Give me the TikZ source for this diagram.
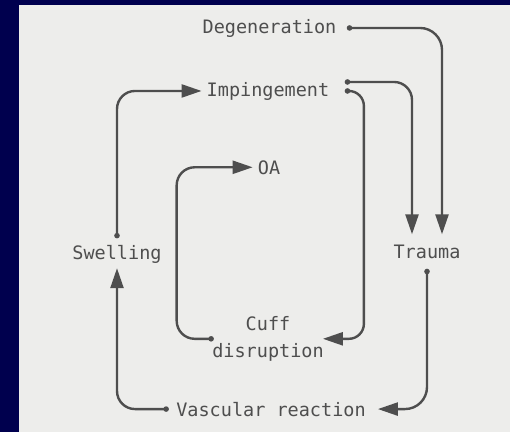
\documentclass[tikz,border=0pt]{standalone}
\usepackage{fontspec}
\setmonofont{DejaVu Sans Mono}
\usetikzlibrary{arrows.meta}
\definecolor{deepNavy}{RGB}{0,0,78}
\definecolor{panelGray}{RGB}{237,237,235}
\definecolor{inkGray}{RGB}{78,78,78}
\tikzset{
  term/.style={font=\ttfamily\fontsize{18.5}{27}\selectfont, text=inkGray, inner sep=0pt, anchor=base},
  link/.style={draw=inkGray, line width=2.4pt, rounded corners=18pt, -{Triangle[length=20pt,width=13pt]}},
}

\begin{document}
\begin{tikzpicture}[x=1pt, y=-1pt]
    \useasboundingbox (0,0) rectangle (510,432);
    \fill[deepNavy] (0,0) rectangle (510,432);
    \fill[panelGray] (19,5) rectangle (510,432);

    \node[term] (deg) at (269.5,33) {Degeneration};
    \node[term] (imp) at (268,96) {Impingement};
    \node[term] (oa) at (269,174) {OA};
    \node[term] (swell) at (117,259) {Swelling};
    \node[term] (trauma) at (427,258) {Trauma};
    \node[term, anchor=center, align=center] (cuff) at (268,338.8) {Cuff\\disruption};
    \node[term] (vasc) at (271,416) {Vascular reaction};

    \coordinate (degdot) at ([xshift=13pt]deg.east);
    \coordinate (impdotA) at ([xshift=18pt,yshift=9pt]imp.east);
    \coordinate (impdotB) at ([xshift=18pt]imp.east);
    \coordinate (swelldot) at ([yshift=9pt]swell.north);
    \coordinate (traumadot) at ([yshift=-13pt]trauma.south);
    \coordinate (cuffdot) at ([xshift=-1pt]cuff.west);
    \coordinate (vascdot) at ([xshift=-10pt]vasc.west);

    \draw[link, rounded corners=22pt] (degdot) -| ([xshift=15pt,yshift=10pt]trauma.north);
    \draw[link] (impdotA) -| ([xshift=-15pt,yshift=10pt]trauma.north);
    \draw[link, rounded corners=15pt] (impdotB) -| ([xshift=40pt,yshift=40pt]cuff.east) |- ([xshift=-1pt]cuff.east);
    \draw[link] (cuffdot) -| ([xshift=-81pt,yshift=-40pt]oa.west) |- ([xshift=-5pt]oa.west);
    \draw[link] (swelldot) |- ([xshift=-5pt]imp.west);
    \draw[link] (vascdot) -| ([yshift=-5pt]swell.south);
    \draw[link, rounded corners=22pt] (traumadot) |- ([xshift=12pt]vasc.east);

    \foreach \p in {degdot,impdotA,impdotB,swelldot,traumadot,cuffdot,vascdot}
        \fill[inkGray] (\p) circle (2.8pt);
\end{tikzpicture}
\end{document}
